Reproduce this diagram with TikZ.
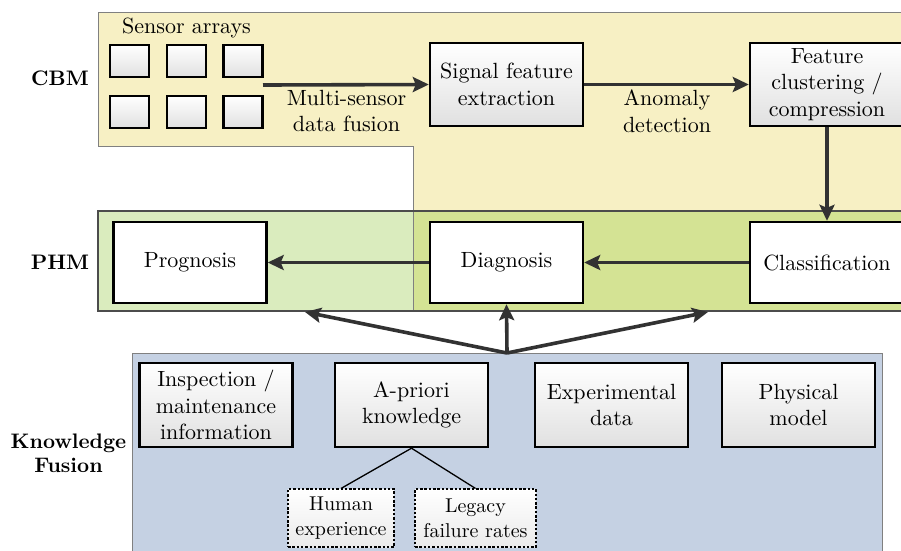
\documentclass[tikz,border=0pt]{standalone}
\usepackage{fontspec}
\setmainfont{lmroman10-regular}[Extension=.otf, BoldFont=lmroman10-bold, ItalicFont=lmroman10-italic]
\usetikzlibrary{arrows.meta,shadings}
\definecolor{yellowbg}{RGB}{247,240,196}
\definecolor{greenlight}{RGB}{218,236,190}
\definecolor{greendark}{RGB}{212,227,148}
\definecolor{bluebg}{RGB}{197,209,227}
\definecolor{arrowc}{RGB}{50,50,50}
\tikzset{
  txt/.style={font=\fontsize{22}{26.5}\selectfont, align=center, inner sep=0pt},
  lbl/.style={font=\fontsize{21}{24}\selectfont\bfseries, align=center, inner sep=0pt},
  gbox/.style={draw=black, line width=2.4pt, top color=white, bottom color=black!12, minimum width=153pt, minimum height=83pt, inner sep=0pt, txt},
  wbox/.style={draw=black, line width=2.4pt, fill=white, minimum width=153pt, minimum height=81pt, inner sep=0pt, txt},
  sensorbox/.style={draw=black, line width=2.2pt, top color=white, bottom color=black!12, minimum width=39pt, minimum height=32pt, inner sep=0pt},
  dbox/.style={draw=black, line width=1.1pt, dash pattern=on 2.5pt off 1.8pt, top color=white, bottom color=black!8, minimum height=58pt, inner sep=0pt, font=\fontsize{20}{25}\selectfont, align=center},
  flow/.style={draw=arrowc, line width=3.6pt, -{Stealth[length=16pt,width=15pt,inset=3pt]}},
  thinln/.style={draw=black, line width=1.3pt},
  region/.style={draw=black!50, line width=1pt}
}
\begin{document}
\begin{tikzpicture}[x=1pt,y=-1pt]
\useasboundingbox (0,0) rectangle (901,550);
% regions
\path[fill=greenlight] (98,211) rectangle (413,311);
\path[fill=greendark] (413,211) rectangle (910,311);
\path[fill=yellowbg] (98,12) -- (910,12) -- (910,211) -- (413,211) -- (413,146) -- (98,146) -- cycle;
\draw[region] (910,12) -- (98,12) -- (98,146) -- (413,146) -- (413,311);
\draw[draw=black!70, line width=1.2pt] (910,211) -- (98,211) -- (98,311) -- (910,311);
\path[fill=bluebg, region] (132,560) -- (132,353) -- (882,353) -- (882,560);
% labels
\node[lbl] (cbm) at (60,78) {CBM};
\node[lbl] (phm) at (60,262) {PHM};
\node[lbl] (kf) at (68.5,453) {Knowledge\\Fusion};
% sensors
\node[txt] (sa) at (186.5,28) {Sensor arrays};
\node[sensorbox] (s1) at (129.5,61) {};
\node[sensorbox] (s2) at (186.5,61) {};
\node[sensorbox] (s3) at (243,61) {};
\node[sensorbox] (s4) at (129.5,112) {};
\node[sensorbox] (s5) at (186.5,112) {};
\node[sensorbox] (s6) at (243,112) {};
\coordinate (fuse) at (263,85);
% CBM boxes
\node[gbox] (sig) at (506.5,84.5) {Signal feature\\extraction};
\node[gbox, minimum width=154pt, text width=150pt] (feat) at (827,84.5) {Feature\\clustering /\\compression};
\node[txt] (msf) at (346.5,111) {Multi-sensor\\data fusion};
\node[txt] (ad) at (667,111) {Anomaly\\detection};
% PHM boxes
\node[wbox] (prog) at (190,262.5) {Prognosis};
\node[wbox] (diag) at (506.5,262.5) {Diagnosis};
\node[wbox, minimum width=154pt] (cls) at (827,262.5) {Classification};
% KF boxes
\node[gbox, minimum height=84pt] (insp) at (216,405) {Inspection /\\maintenance\\information};
\node[gbox, minimum height=84pt] (apri) at (411.5,405) {A-priori\\knowledge};
\node[gbox, minimum height=84pt] (exp) at (611.5,405) {Experimental\\data};
\node[gbox, minimum height=84pt] (phys) at (798.5,405) {Physical\\model};
\node[dbox, minimum width=106pt] (hum) at (341,518) {Human\\experience};
\node[dbox, minimum width=121pt] (leg) at (475.5,518) {Legacy\\failure rates};
% connectors
\draw[flow] (fuse) -- (sig.west);
\draw[flow] (sig.east) -- (feat.west);
\draw[flow] (feat.south) -- (cls.north);
\draw[flow] (cls.west) -- (diag.east);
\draw[flow] (diag.west) -- (prog.east);
\coordinate (j) at (507,353);
\coordinate (tl) at (305,312);
\coordinate (tr) at (708,312);
\draw[flow] (j) -- (tl);
\draw[flow] (j) -- (diag.south);
\draw[flow] (j) -- (tr);
\draw[thinln] (apri.south) -- (hum.north);
\draw[thinln] (apri.south) -- (leg.north);
\end{tikzpicture}
\end{document}
